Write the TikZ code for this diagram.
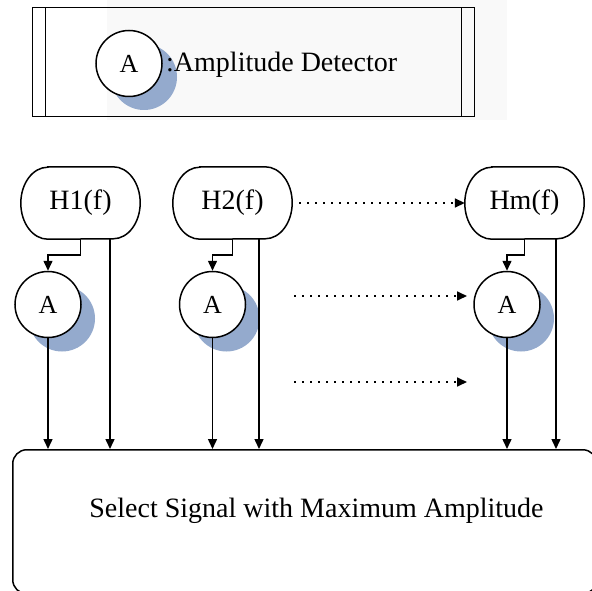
\documentclass[tikz,border=0pt]{standalone}
\usepackage{fontspec}
\setmainfont{Liberation Serif}
\usetikzlibrary{arrows.meta}
\definecolor{shadowblue}{RGB}{148,170,205}

\begin{document}
\begin{tikzpicture}[x=1pt,y=1pt,
  line/.style={line width=1.5pt},
  arr/.style={line, -{Triangle[length=10pt,width=9pt]}},
  dotarr/.style={line width=1.7pt, dash pattern=on 1.7pt off 6.3pt,
                 -{Triangle[length=10pt,width=9pt]}},
  acirc/.style={circle, draw, line, fill=white, minimum size=66pt, inner sep=0pt,
                font=\fontsize{26}{30}\selectfont},
  hbox/.style={minimum width=119pt, minimum height=72pt, inner sep=0pt},
  txt/.style={font=\fontsize{28}{32}\selectfont},
]
\useasboundingbox (0,0) rectangle (592,-591);

% faint tinted backdrop behind the legend
\fill[black!2.5] (107,0) rectangle (507,-120);

% legend: predefined-process frame
\draw[line width=1pt] (32,-8) rectangle (474,-117);
\draw[line width=1pt] (45,-8) -- (45,-117) (461,-8) -- (461,-117);
\fill[shadowblue] (144,-77) circle (33);
\node[acirc] (legA) at (129,-63.5) {A};
\node[txt, anchor=base west, inner sep=0pt] (legtext) at (166,-72) {:Amplitude Detector};

% filter blocks
\node[hbox, txt] (h1) at (80.5,-203) {H1(f)};
\node[hbox, txt] (h2) at (232.5,-203) {H2(f)};
\node[hbox, txt] (hm) at (524.5,-203) {Hm(f)};
\foreach \n in {h1,h2,hm}
  \draw[line] ([xshift=27pt]\n.north west) -- ([xshift=-27pt]\n.north east)
    arc[start angle=90, end angle=-90, x radius=27pt, y radius=36pt]
    -- ([xshift=27pt]\n.south west)
    arc[start angle=270, end angle=90, x radius=27pt, y radius=36pt] -- cycle;

% amplitude detectors with shadows
\foreach \x in {48,212.5,507}
  \fill[shadowblue] (\x+14,-318.5) circle (33);
\node[acirc] (a1) at (48,-304.5) {A};
\node[acirc] (a2) at (212.5,-304.5) {A};
\node[acirc] (am) at (507,-304.5) {A};

% selector block
\node[draw, line, rounded corners=14pt, minimum width=584pt, minimum height=144pt,
      anchor=north west, inner sep=0pt] (sel) at (12,-449) {};
\node[txt] (seltext) at (316.5,-511) {Select Signal with Maximum Amplitude};

% filter outputs to detectors
\draw[arr] (h1.south) -- ++(0,-16) -| (a1.north);
\draw[arr] (h2.south) -- ++(0,-16) -| (a2.north);
\draw[arr] (hm.south) -- ++(0,-16) -| (am.north);

% filter outputs straight to selector
\draw[arr] ([xshift=29.5pt]h1.south) -- ([xshift=29.5pt]h1.south |- sel.north);
\draw[arr] ([xshift=26.5pt]h2.south) -- ([xshift=26.5pt]h2.south |- sel.north);
\draw[arr] ([xshift=31.5pt]hm.south) -- ([xshift=31.5pt]hm.south |- sel.north);

% detector outputs to selector
\draw[arr] (a1.south) -- (a1.south |- sel.north);
\draw[arr] (a2.south) -- (a2.south |- sel.north);
\draw[arr] (am.south) -- (am.south |- sel.north);

% dotted continuation arrows
\coordinate (d2s) at (294,-296);
\coordinate (d2e) at (467,-296);
\coordinate (d3s) at (294,-382);
\coordinate (d3e) at (467,-382);
\draw[dotarr] ([xshift=7pt]h2.east) -- (hm.west);
\draw[dotarr] (d2s) -- (d2e);
\draw[dotarr] (d3s) -- (d3e);
\end{tikzpicture}
\end{document}
